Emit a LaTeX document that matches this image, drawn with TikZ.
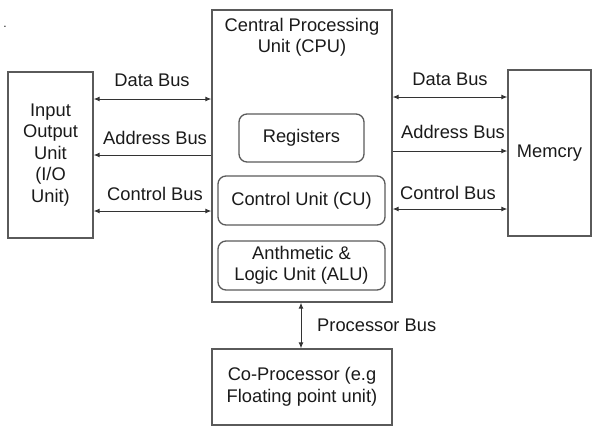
\documentclass[tikz,border=0pt]{standalone}
\usepackage{fontspec}
\setmainfont{Liberation Sans}
\usetikzlibrary{arrows.meta}
\definecolor{boxc}{HTML}{5A5A5A}
\definecolor{linec}{HTML}{333333}
\definecolor{txtc}{HTML}{1A1A1A}
\begin{document}
\begin{tikzpicture}[x=1pt,y=-1pt,
  every node/.style={text=txtc,font=\fontsize{18.3}{21.5}\selectfont},
  blk/.style={draw=boxc,line width=1.3pt,rectangle,inner sep=0pt,align=center},
  rblk/.style={blk,rounded corners=8pt},
  lbl/.style={inner sep=0pt},
  bus/.style={draw=linec,line width=1pt},
  tip/.style={-{Latex[length=6pt,width=5pt]}},
  tips/.style={{Latex[length=6pt,width=5pt]}-{Latex[length=6pt,width=5pt]}}]
\useasboundingbox (0,0) rectangle (595,432);
\node[lbl,font=\fontsize{12}{14}\selectfont] (dot) at (5,27) {.};
% blocks
\node[blk,minimum width=85pt,minimum height=166pt] (io) at (50.5,155) {Input\\Output\\Unit\\(I/O\\Unit)};
\node[blk,minimum width=180pt,minimum height=292pt] (cpu) at (302,156) {};
\node[lbl,align=center] (cputitle) at (302,37.5) {Central Processing\\Unit (CPU)};
\node[rblk,minimum width=125pt,minimum height=48pt] (reg) at (301.5,138) {Registers};
\node[rblk,minimum width=167pt,minimum height=49pt] (cu) at (301.5,200.5) {Control Unit (CU)};
\node[rblk,minimum width=167pt,minimum height=49pt] (alu) at (301.5,265.5) {Anthmetic \&\\Logic Unit (ALU)};
\node[blk,minimum width=83pt,minimum height=166pt] (mem) at (549.5,153) {Memcry};
\node[blk,minimum width=180pt,minimum height=76pt] (cop) at (302,387) {Co-Processor (e.g\\Floating point unit)};
% left buses
\draw[bus,tips] (io.east |- 0,99) -- (cpu.west |- 0,99);
\draw[bus,tip] (cpu.west |- 0,155) -- (io.east |- 0,155);
\draw[bus,tips] (io.east |- 0,211) -- (cpu.west |- 0,211);
\node[lbl] (ldata) at (152,80) {Data Bus};
\node[lbl] (laddr) at (155,138) {Address Bus};
\node[lbl] (lctrl) at (155,194) {Control Bus};
% right buses
\draw[bus,tips] (cpu.east |- 0,97) -- (mem.west |- 0,97);
\draw[bus,tip] (cpu.east |- 0,151) -- (mem.west |- 0,151);
\draw[bus,tips] (cpu.east |- 0,209) -- (mem.west |- 0,209);
\node[lbl] (rdata) at (450,79) {Data Bus};
\node[lbl] (raddr) at (453,132) {Address Bus};
\node[lbl] (rctrl) at (448,193) {Control Bus};
% processor bus
\draw[bus,tips] (cpu.south -| 301,0) -- (cop.north -| 301,0);
\node[lbl,anchor=west] (pbus) at (317,325) {Processor Bus};
\end{tikzpicture}
\end{document}
